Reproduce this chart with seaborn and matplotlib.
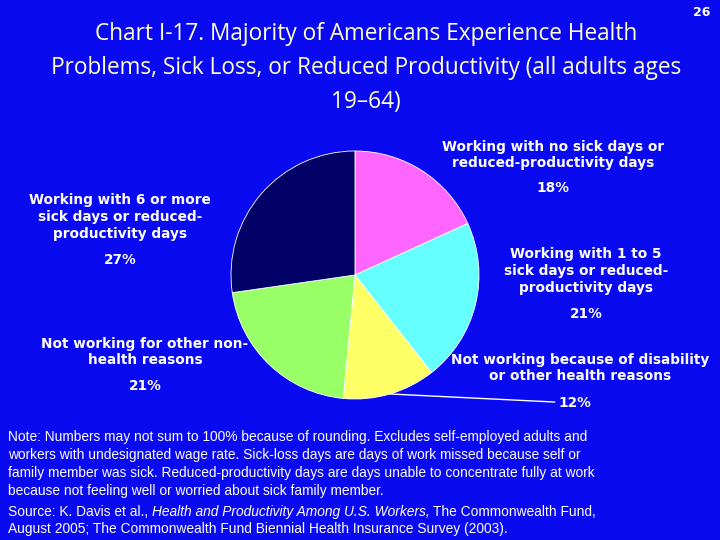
import numpy as np
import matplotlib
matplotlib.use("Agg")
import matplotlib.pyplot as plt
import seaborn as sns

# slices, clockwise from 12 o'clock
categories = [
    "Working with no sick days or\nreduced-productivity days",
    "Working with 1 to 5\nsick days or reduced-\nproductivity days",
    "Not working because of disability\nor other health reasons",
    "Not working for other non-\nhealth reasons",
    "Working with 6 or more\nsick days or reduced-\nproductivity days",
]
shares = [18, 21, 12, 21, 27]
colors = ["#FF66FF", "#66FFFF", "#FFFF66", "#99FF66", "#000066"]

title = ("Chart I-17. Majority of Americans Experience Health\n"
         "Problems, Sick Loss, or Reduced Productivity (all adults ages\n"
         "19\u201364)")
note = ("Note: Numbers may not sum to 100% because of rounding. Excludes self-employed adults and\n"
        "workers with undesignated wage rate. Sick-loss days are days of work missed because self or\n"
        "family member was sick. Reduced-productivity days are days unable to concentrate fully at work\n"
        "because not feeling well or worried about sick family member.")

BG = "#0A0AF0"
W, H = 720, 540
NOTE_FONT = "Liberation Sans"
NOTE_SIZE = 9.9

sns.set_style("white")
plt.rcParams["font.family"] = ["DejaVu Sans"]

fig = plt.figure(figsize=(7.2, 5.4), dpi=100, facecolor=BG)

def fx(px):
    return px / W

def fy(py):
    return 1 - py / H

# pie axes: center (355, 275), radius 124 px
cx, cy, r = 355, 275, 124
ax = fig.add_axes([fx(cx - r), fy(cy + r), 2 * r / W, 2 * r / H])
ax.set_facecolor(BG)
wedges, _ = ax.pie(shares, colors=colors, startangle=90, counterclock=False,
                   radius=1.0, wedgeprops=dict(edgecolor="white", linewidth=0.6))
ax.set_xlim(-1, 1)
ax.set_ylim(-1, 1)
ax.axis("off")

# title and page number
fig.text(fx(366), fy(68), title, ha="center", va="center", color="#FFFFD0",
         fontsize=16.3, family="Open Sans", linespacing=1.55)
fig.text(fx(702), fy(12), "26", ha="center", va="center", color="white",
         fontsize=9, fontweight="bold")

# slice labels
label_pos = [(553, 155, 188), (586, 271, 314), (580, 368, 403), (145, 352, 386), (120, 217, 260)]
for lab, val, (x, ymid, yv) in zip(categories, shares, label_pos):
    fig.text(fx(x), fy(ymid), lab, ha="center", va="center", color="white",
             fontsize=9.8, fontweight="bold", linespacing=1.25)
    if val != 12:
        fig.text(fx(x), fy(yv), f"{val}%", ha="center", va="center", color="white",
                 fontsize=9.8, fontweight="bold")

# leader line for the small yellow slice
w = wedges[2]
mid = np.deg2rad((w.theta1 + w.theta2) / 2)
ax.annotate("12%", xy=(np.cos(mid), np.sin(mid)), xycoords="data",
            xytext=(fx(558), fy(403)), textcoords="figure fraction",
            ha="left", va="center", color="white", fontsize=9.8, fontweight="bold",
            arrowprops=dict(arrowstyle="-", color="white", lw=1, shrinkA=0, shrinkB=0),
            annotation_clip=False)

# notes
fig.text(fx(8), fy(430), note, ha="left", va="top", color="white",
         fontsize=NOTE_SIZE, family=NOTE_FONT, linespacing=1.36)
t1 = fig.text(fx(8), fy(505), "Source: K. Davis et al., ", ha="left", va="top",
              color="white", fontsize=NOTE_SIZE, family=NOTE_FONT)
fig.canvas.draw()
bb = t1.get_window_extent()
t2 = fig.text(bb.x1 / W, fy(505), "Health and Productivity Among U.S. Workers,", ha="left", va="top",
              color="white", fontsize=NOTE_SIZE, family=NOTE_FONT, style="italic")
fig.canvas.draw()
bb2 = t2.get_window_extent()
fig.text(bb2.x1 / W + 0.005, fy(505), "The Commonwealth Fund,", ha="left", va="top",
         color="white", fontsize=NOTE_SIZE, family=NOTE_FONT)
fig.text(fx(8), fy(522), "August 2005; The Commonwealth Fund Biennial Health Insurance Survey (2003).",
         ha="left", va="top", color="white", fontsize=NOTE_SIZE, family=NOTE_FONT)

fig.savefig("out.png", dpi=100, facecolor=BG)
